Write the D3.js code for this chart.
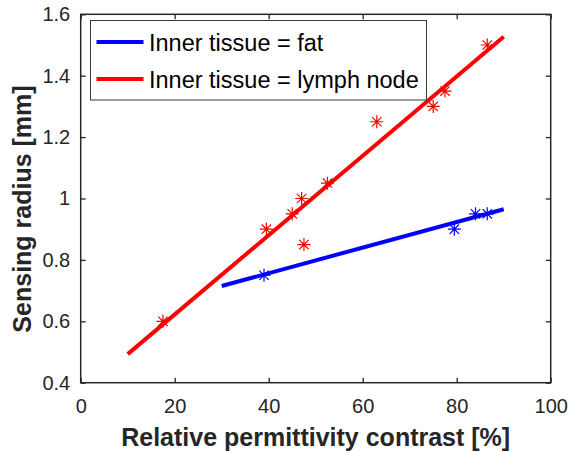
<!DOCTYPE html>
<html>
<head>
<meta charset="utf-8">
<style>
  body { margin: 0; background: #fff; }
  svg { font-family: 'Liberation Sans', Arial, sans-serif; }
</style>
</head>
<body>
<svg width="571" height="451"></svg>
<script src="https://cdn.jsdelivr.net/npm/d3@7"></script>
<script>
// measured data (percent contrast, sensing radius in mm)
const fatX = [39, 79.5, 84, 86.5];
const fatY = [0.75, 0.9, 0.95, 0.95];
const lymphX = [17.5, 39.5, 45, 47, 47.5, 52.5, 63, 75, 77.5, 86.5];
const lymphY = [0.6, 0.9, 0.95, 1.0, 0.85, 1.05, 1.25, 1.3, 1.35, 1.5];

// linear fit end points
const fatFitX = [30, 90];
const fatFitY = [0.715, 0.965];
const lymphFitX = [10, 90];
const lymphFitY = [0.493, 1.527];

const xTicks = [0, 20, 40, 60, 80, 100];
const yTicks = [0.4, 0.6, 0.8, 1, 1.2, 1.4, 1.6];
const legendLabels = ['Inner tissue = fat', 'Inner tissue = lymph node'];

const svg = d3.select('svg');
const mLeft = 80.7, mRight = 550.7, mTop = 14.3, mBottom = 382.7;
const axisColor = '#262626';

const x = d3.scaleLinear().domain([0, 100]).range([mLeft, mRight]);
const y = d3.scaleLinear().domain([0.4, 1.6]).range([mBottom, mTop]);

// axes with inward ticks
svg.append('g')
    .attr('transform', `translate(0,${mBottom})`)
    .call(d3.axisBottom(x).tickValues(xTicks).tickSize(-5).tickPadding(16).tickFormat(d3.format('d')))
    .call(g => g.select('.domain').remove());
svg.append('g')
    .attr('transform', `translate(0,${mTop})`)
    .call(d3.axisTop(x).tickValues(xTicks).tickSize(-5).tickFormat(''))
    .call(g => g.select('.domain').remove());
svg.append('g')
    .attr('transform', `translate(${mLeft},0)`)
    .call(d3.axisLeft(y).tickValues(yTicks).tickSize(-5).tickPadding(10.5).tickFormat(d => String(+d.toFixed(1))))
    .call(g => g.select('.domain').remove());
svg.append('g')
    .attr('transform', `translate(${mRight},0)`)
    .call(d3.axisRight(y).tickValues(yTicks).tickSize(-5).tickFormat(''))
    .call(g => g.select('.domain').remove());

svg.selectAll('.tick line').attr('stroke', axisColor).attr('stroke-width', 1.3);
svg.selectAll('.tick text')
    .attr('fill', axisColor)
    .style('font-size', '20px')
    .style('font-family', "'Liberation Sans', Arial, sans-serif");

svg.append('rect')
    .attr('x', mLeft).attr('y', mTop)
    .attr('width', mRight - mLeft).attr('height', mBottom - mTop)
    .attr('fill', 'none').attr('stroke', axisColor).attr('stroke-width', 1.5);

// fit lines
function fitLine(xs, ys, color) {
    svg.append('line')
        .attr('x1', x(xs[0])).attr('y1', y(ys[0]))
        .attr('x2', x(xs[1])).attr('y2', y(ys[1]))
        .attr('stroke', color).attr('stroke-width', 4);
}
fitLine(fatFitX, fatFitY, '#0000ff');
fitLine(lymphFitX, lymphFitY, '#ff0000');

// asterisk markers
const r = 6.5;
const star = `M${-r},0H${r}M0,${-r}V${r}` +
    `M${-r * 0.72},${-r * 0.72}L${r * 0.72},${r * 0.72}M${-r * 0.72},${r * 0.72}L${r * 0.72},${-r * 0.72}`;
function markers(xs, ys, color) {
    svg.append('g').selectAll('path')
        .data(xs.map((v, i) => [v, ys[i]]))
        .join('path')
        .attr('transform', d => `translate(${x(d[0])},${y(d[1])})`)
        .attr('d', star)
        .attr('fill', 'none')
        .attr('stroke', color)
        .attr('stroke-width', 1.2);
}
markers(fatX, fatY, '#0000ff');
markers(lymphX, lymphY, '#ff0000');

// legend
const lg = svg.append('g');
lg.append('rect')
    .attr('x', 90.5).attr('y', 20.5).attr('width', 336).attr('height', 79.5)
    .attr('fill', '#fff').attr('stroke', '#3a3a3a').attr('stroke-width', 1);
[['#0000ff', 42], ['#ff0000', 79]].forEach(([c, ly], i) => {
    lg.append('line')
        .attr('x1', 96.5).attr('x2', 143.5).attr('y1', ly).attr('y2', ly)
        .attr('stroke', c).attr('stroke-width', 4);
    lg.append('text')
        .attr('x', 149).attr('y', ly + 8.5)
        .attr('fill', '#000')
        .style('font-size', '23.5px')
        .text(legendLabels[i]);
});

// axis labels
svg.append('text')
    .attr('x', (mLeft + mRight) / 2).attr('y', 445.5)
    .attr('text-anchor', 'middle')
    .attr('fill', axisColor)
    .style('font-size', '25px').style('font-weight', 'bold')
    .text('Relative permittivity contrast [%]');
svg.append('text')
    .attr('transform', `translate(31,209) rotate(-90)`)
    .attr('text-anchor', 'middle')
    .attr('fill', axisColor)
    .style('font-size', '25px').style('font-weight', 'bold')
    .text('Sensing radius [mm]');
</script>
</body>
</html>
